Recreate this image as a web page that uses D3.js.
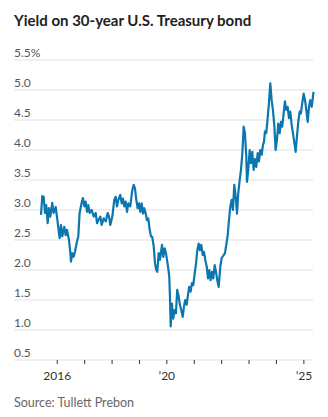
<!DOCTYPE html>
<html>
<head>
<meta charset="utf-8">
<script src="https://cdn.jsdelivr.net/npm/d3@7"></script>
<style>
  html, body { margin: 0; padding: 0; background: #fff; }
  svg { display: block; }
  text { font-family: Lato, "Noto Sans", sans-serif; }
</style>
</head>
<body>
<svg id="chart" width="328" height="417"></svg>
<script>
// weekly-ish readings of the 30-year yield, percent
var dates = [
  "2015-06-05","2015-06-22","2015-07-11","2015-07-28","2015-08-14","2015-09-02","2015-09-19","2015-10-07",
  "2015-11-02","2015-11-21","2015-12-18","2016-01-04","2016-01-31","2016-02-09","2016-02-26","2016-03-15",
  "2016-04-10","2016-04-29","2016-05-16","2016-06-12","2016-06-29","2016-07-09","2016-07-26","2016-08-13",
  "2016-08-31","2016-09-26","2016-10-14","2016-11-01","2016-11-28","2016-12-15","2017-01-03","2017-01-21",
  "2017-02-08","2017-02-25","2017-03-15","2017-04-11","2017-05-08","2017-06-03","2017-06-21","2017-07-08",
  "2017-08-04","2017-08-22","2017-09-18","2017-10-15","2017-11-10","2017-11-28","2017-12-15","2018-01-11",
  "2018-02-06","2018-02-25","2018-03-14","2018-04-01","2018-04-27","2018-05-16","2018-06-02","2018-06-19",
  "2018-07-08","2018-07-26","2018-08-12","2018-09-07","2018-10-04","2018-10-23","2018-11-09","2018-11-26",
  "2018-12-15","2019-01-02","2019-01-19","2019-02-06","2019-02-24","2019-03-13","2019-04-01","2019-04-18",
  "2019-05-05","2019-05-24","2019-06-10","2019-06-27","2019-07-16","2019-08-03","2019-08-20","2019-09-02",
  "2019-09-21","2019-10-08","2019-11-04","2019-11-21","2019-12-10","2019-12-27","2020-01-23","2020-02-09",
  "2020-02-18","2020-02-28","2020-03-16","2020-04-02","2020-04-21","2020-05-08","2020-05-25","2020-06-13",
  "2020-06-30","2020-07-18","2020-08-06","2020-08-23","2020-09-09","2020-09-28","2020-10-15","2020-11-01",
  "2020-11-20","2020-12-07","2020-12-25","2021-01-13","2021-01-31","2021-02-17","2021-03-07","2021-03-25",
  "2021-04-11","2021-04-30","2021-05-17","2021-06-03","2021-06-22","2021-07-10","2021-07-27","2021-08-14",
  "2021-09-01","2021-09-18","2021-10-07","2021-10-24","2021-11-10","2021-11-29","2021-12-20","2022-01-08",
  "2022-02-04","2022-02-21","2022-03-10","2022-03-29","2022-04-15","2022-05-03","2022-05-21","2022-06-07",
  "2022-06-25","2022-07-14","2022-07-31","2022-08-17","2022-09-05","2022-09-22","2022-10-10","2022-10-28",
  "2022-11-14","2022-12-02","2022-12-11","2022-12-28","2023-01-16","2023-02-02","2023-02-20","2023-03-10",
  "2023-03-28","2023-04-14","2023-05-03","2023-05-20","2023-06-06","2023-06-25","2023-07-12","2023-07-26",
  "2023-08-08","2023-08-25","2023-09-13","2023-09-30","2023-10-18","2023-11-05","2023-11-22","2023-12-10",
  "2023-12-28","2024-01-15","2024-02-01","2024-02-20","2024-03-08","2024-03-25","2024-04-13","2024-04-30",
  "2024-05-18","2024-06-05","2024-06-23","2024-07-10","2024-07-29","2024-08-15","2024-09-01","2024-09-20",
  "2024-10-07","2024-10-25","2024-11-12","2024-11-29","2024-12-17","2025-01-05","2025-01-23","2025-02-09",
  "2025-02-28","2025-03-17","2025-04-03","2025-04-22","2025-05-09","2025-05-16"
];

var yields = [
  2.92, 3.23, 3.22, 2.95, 3.08, 2.78, 3.03, 2.89,
  3.12, 2.95, 3.05, 2.89, 2.61, 2.53, 2.75, 2.56,
  2.72, 2.58, 2.67, 2.50, 2.30, 2.14, 2.28, 2.22,
  2.30, 2.47, 2.56, 2.95, 3.12, 3.20, 3.06, 3.14,
  2.97, 3.08, 2.95, 3.00, 2.89, 2.95, 2.78, 2.83,
  2.89, 2.75, 2.86, 2.81, 2.95, 2.89, 2.75, 2.89,
  3.17, 3.22, 3.06, 3.17, 3.25, 3.11, 3.19, 3.06,
  3.14, 2.97, 3.11, 3.06, 3.33, 3.42, 3.36, 3.17,
  3.03, 3.11, 2.97, 3.11, 2.94, 3.03, 2.94, 2.83,
  2.86, 2.67, 2.56, 2.55, 2.40, 2.11, 2.00, 1.97,
  2.28, 2.17, 2.42, 2.22, 2.36, 2.28, 2.06, 1.89,
  1.56, 1.06, 1.44, 1.19, 1.33, 1.28, 1.67, 1.56,
  1.42, 1.33, 1.22, 1.39, 1.50, 1.42, 1.58, 1.72,
  1.64, 1.78, 1.75, 1.94, 2.11, 2.33, 2.44, 2.33,
  2.42, 2.25, 2.30, 2.17, 2.06, 1.86, 2.00, 1.83,
  1.97, 1.86, 2.08, 1.97, 1.83, 1.72, 2.05, 2.20,
  2.25, 2.28, 2.42, 2.58, 2.83, 3.06, 3.17, 3.00,
  3.42, 3.22, 2.94, 3.28, 3.50, 3.67, 3.94, 4.39,
  4.28, 3.89, 3.47, 3.67, 4.00, 3.78, 3.97, 3.67,
  3.85, 3.72, 3.95, 3.81, 4.00, 3.92, 4.08, 4.14,
  4.31, 4.28, 4.53, 4.78, 5.11, 4.83, 4.67, 4.42,
  4.00, 4.17, 4.44, 4.28, 4.47, 4.39, 4.61, 4.81,
  4.67, 4.72, 4.53, 4.64, 4.42, 4.28, 4.14, 3.97,
  4.22, 4.47, 4.64, 4.61, 4.78, 4.94, 4.83, 4.67,
  4.47, 4.72, 4.83, 4.72, 4.89, 4.97
];

var yTicks = [0.5, 1.0, 1.5, 2.0, 2.5, 3.0, 3.5, 4.0, 4.5, 5.0, 5.5];
var xTickYears = [2016, 2017, 2018, 2019, 2020, 2021, 2022, 2023, 2024, 2025];
var xLabels = {2016: "2016", 2020: "\u201920", 2025: "\u201925"};

var parse = d3.timeParse("%Y-%m-%d");
var data = dates.map(function(d, i) { return { date: parse(d), value: yields[i] }; });

var svg = d3.select("#chart");
var left = 14, right = 313;

var x = d3.scaleTime()
  .domain(d3.extent(data, function(d) { return d.date; }))
  .range([41, 313.5]);

var y = d3.scaleLinear()
  .domain([0.5, 5.5])
  .range([360, 60]);

svg.append("text")
  .attr("x", 14)
  .attr("y", 26)
  .style("font-size", "15px")
  .style("font-weight", 700)
  .style("fill", "#222")
  .text("Yield on 30-year U.S. Treasury bond");

// horizontal grid + labels sitting on top of each line
var grid = svg.append("g");
grid.selectAll("line")
  .data(yTicks)
  .enter()
  .append("line")
  .attr("x1", left)
  .attr("x2", right)
  .attr("y1", function(d) { return y(d); })
  .attr("y2", function(d) { return y(d); })
  .style("stroke", "#ebebeb")
  .style("stroke-width", 1.5);

grid.selectAll("text")
  .data(yTicks)
  .enter()
  .append("text")
  .attr("x", left)
  .attr("y", function(d) { return y(d) - 3; })
  .style("font-size", "12px")
  .style("fill", "#555")
  .text(function(d) { return d === 5.5 ? "5.5%" : d3.format(".1f")(d); });

var xAxis = d3.axisBottom(x)
  .tickValues(xTickYears.map(function(yr) { return new Date(yr, 0, 1); }))
  .tickSize(4)
  .tickFormat(function(d) { return xLabels[d.getFullYear()] || ""; });

var gx = svg.append("g")
  .attr("transform", "translate(0," + y(0.5) + ")")
  .call(xAxis);
gx.select(".domain").remove();
gx.selectAll(".tick line").style("stroke", "#333");
gx.selectAll(".tick text")
  .attr("dy", null)
  .attr("y", 20)
  .style("font-family", "Lato, 'Noto Sans', sans-serif")
  .style("font-size", "12px")
  .style("fill", "#333");

var line = d3.line()
  .x(function(d) { return x(d.date); })
  .y(function(d) { return y(d.value); });

svg.append("path")
  .datum(data)
  .attr("d", line)
  .style("fill", "none")
  .style("stroke", "#0b77ae")
  .style("stroke-width", 2.2)
  .style("stroke-linejoin", "round");

svg.append("text")
  .attr("x", 14)
  .attr("y", 407)
  .style("font-size", "12.5px")
  .style("fill", "#666")
  .text("Source: Tullett Prebon");
</script>
</body>
</html>
